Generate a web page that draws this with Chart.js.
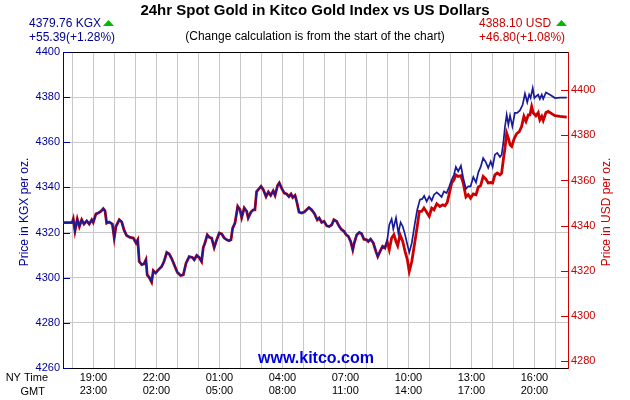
<!DOCTYPE html>
<html>
<head>
<meta charset="utf-8">
<script src="https://cdn.jsdelivr.net/npm/chart.js@4.4.1/dist/chart.umd.min.js"></script>
<style>
  html, body { margin: 0; padding: 0; background: #fff; }
</style>
</head>
<body>
<canvas id="goldChart" width="630" height="400"></canvas>
<script>
// hours on the NY clock, counted from midnight of the first day (25 = 01:00 next day)
const sharedHours = [17.56,17.99,18.04,18.12,18.23,18.33,18.44,18.55,18.68,18.80,
  18.92,18.99,19.12,19.23,19.35,19.47,19.55,19.63,19.75,19.90,
  19.99,20.07,20.23,20.35,20.45,20.58,20.74,20.90,21.03,21.11,
  21.18,21.30,21.41,21.50,21.56,21.66,21.77,21.85,21.96,22.09,
  22.25,22.36,22.49,22.61,22.73,22.88,22.99,23.15,23.28,23.41,
  23.56,23.71,23.80,23.92,24.03,24.15,24.23,24.31,24.42,24.52,
  24.63,24.75,24.87,24.99,25.11,25.23,25.35,25.45,25.55,25.63,
  25.74,25.87,25.98,26.06,26.18,26.30,26.37,26.50,26.61,26.69,
  26.77,26.88,26.98,27.09,27.22,27.33,27.44,27.56,27.65,27.77,
  27.85,27.96,28.09,28.20,28.31,28.41,28.49,28.60,28.68,28.79,
  28.92,29.04,29.15,29.26,29.39,29.52,29.66,29.75,29.87,29.98,
  30.11,30.23,30.35,30.45,30.58,30.71,30.82,30.93,31.03,31.14,
  31.25,31.35,31.42,31.54,31.66,31.77,31.88,32.01,32.09,32.20,
  32.33,32.45,32.54,32.65,32.77,32.88];

const kgxEarly = [4324.4,4324.5,4326.0,4320.7,4326.0,4322.7,4325.7,4323.8,4325.2,4323.8,
  4325.7,4324.5,4328.3,4328.7,4329.4,4330.6,4329.7,4324.2,4324.7,4323.8,
  4317.6,4322.7,4325.7,4324.7,4321.3,4318.7,4317.9,4317.6,4315.4,4316.8,
  4307.2,4305.8,4306.2,4308.0,4301.3,4300.1,4298.1,4303.1,4302.1,4303.5,
  4305.0,4307.2,4311.2,4310.5,4308.4,4305.0,4302.5,4301.0,4301.3,4306.5,
  4309.4,4309.0,4308.0,4309.9,4309.0,4307.2,4313.4,4315.4,4319.0,4317.9,
  4317.6,4313.4,4316.8,4319.8,4319.4,4317.6,4316.8,4316.4,4316.8,4322.0,
  4324.2,4331.6,4330.1,4326.7,4330.9,4329.4,4326.5,4329.1,4330.1,4330.1,
  4338.2,4339.4,4340.5,4339.0,4336.0,4338.0,4336.5,4338.5,4336.5,4340.9,
  4342.0,4339.7,4337.5,4337.1,4336.0,4337.1,4335.6,4336.5,4333.8,4329.1,
  4328.7,4329.1,4330.1,4331.1,4330.1,4328.5,4325.7,4326.5,4324.5,4325.0,
  4323.0,4322.7,4323.5,4325.7,4325.0,4322.7,4321.3,4320.6,4319.1,4318.3,
  4316.1,4312.4,4315.4,4319.1,4320.1,4319.5,4317.1,4316.8,4316.1,4317.1,
  4315.4,4311.7,4309.4,4311.7,4313.9,4313.2];

const usdEarly = [4341.3,4341.4,4342.9,4337.6,4342.9,4339.6,4342.6,4340.7,4342.1,4340.7,
  4342.6,4341.4,4345.2,4345.6,4346.3,4347.5,4346.6,4341.1,4341.6,4340.7,
  4334.5,4339.6,4342.6,4341.6,4338.2,4335.6,4334.8,4334.5,4332.3,4333.7,
  4324.1,4322.7,4323.1,4324.9,4318.2,4317.0,4315.0,4320.0,4319.0,4320.4,
  4321.9,4324.1,4328.1,4327.4,4325.3,4321.9,4319.4,4317.9,4318.2,4323.4,
  4326.3,4325.9,4324.9,4326.8,4325.9,4324.1,4330.3,4332.3,4335.9,4334.8,
  4334.5,4330.3,4333.7,4336.7,4336.3,4334.5,4333.7,4333.3,4333.7,4338.9,
  4341.1,4348.5,4347.0,4343.6,4347.8,4346.3,4343.4,4346.0,4347.0,4347.0,
  4355.1,4356.3,4357.4,4355.9,4352.9,4354.9,4353.4,4355.4,4353.4,4357.8,
  4358.9,4356.6,4354.4,4354.0,4352.9,4354.0,4352.5,4353.4,4350.7,4346.0,
  4345.6,4346.0,4347.0,4348.0,4347.0,4345.4,4342.6,4343.4,4341.4,4341.9,
  4339.9,4339.6,4340.4,4342.6,4341.9,4339.6,4338.2,4337.5,4336.0,4335.2,
  4333.0,4329.3,4332.3,4336.0,4337.0,4336.4,4334.0,4333.7,4333.0,4334.0,
  4332.3,4328.6,4326.3,4328.6,4330.8,4330.1];

// after about 09:30 NY the two lines split apart
const kgxLateHours = [32.99,33.09,33.20,33.28,33.41,33.52,33.63,33.73,33.84,33.95,
  34.04,34.16,34.31,34.42,34.55,34.66,34.75,34.87,34.99,35.11,
  35.22,35.35,35.47,35.58,35.69,35.82,35.95,36.06,36.17,36.26,
  36.37,36.50,36.61,36.74,36.85,36.96,37.09,37.22,37.33,37.44,
  37.56,37.69,37.80,37.92,38.01,38.12,38.23,38.36,38.44,38.52,
  38.60,38.68,38.76,38.84,38.95,39.07,39.18,39.31,39.44,39.55,
  39.66,39.75,39.82,39.92,40.00,40.07,40.18,40.26,40.35,40.42,
  40.55,40.66,40.82,40.98,41.22,41.54];
const kgxLate = [4316.5,4323.5,4326.0,4321.6,4326.5,4319.8,4324.5,4322.7,4319.1,4314.6,
  4311.2,4315.4,4324.2,4330.1,4334.6,4334.9,4336.3,4333.8,4336.0,4334.2,
  4336.8,4337.8,4336.8,4335.8,4338.2,4337.5,4340.5,4343.4,4345.6,4349.1,
  4347.1,4349.6,4344.2,4339.3,4340.5,4340.5,4344.6,4342.2,4346.7,4349.1,
  4353.0,4351.1,4348.6,4351.5,4349.1,4354.5,4355.3,4353.5,4354.5,4359.7,
  4367.0,4372.2,4367.8,4371.8,4367.0,4373.0,4373.0,4374.1,4376.6,4381.5,
  4377.7,4381.1,4379.6,4384.0,4379.6,4380.3,4381.1,4379.2,4381.1,4379.2,
  4382.1,4381.5,4380.6,4379.6,4379.8,4379.76];

const usdLateHours = [32.99,33.09,33.20,33.31,33.41,33.49,33.60,33.73,33.84,33.95,
  34.04,34.16,34.31,34.42,34.52,34.63,34.74,34.87,34.99,35.11,
  35.22,35.35,35.50,35.63,35.74,35.85,35.95,36.06,36.17,36.26,
  36.37,36.50,36.61,36.74,36.85,36.96,37.09,37.22,37.33,37.44,
  37.56,37.69,37.80,37.92,38.01,38.12,38.23,38.36,38.44,38.52,
  38.60,38.68,38.76,38.84,38.92,39.03,39.15,39.28,39.39,39.50,
  39.60,39.71,39.79,39.87,39.95,40.07,40.18,40.26,40.35,40.42,
  40.55,40.66,40.82,40.98,41.22,41.54];
const usdLate = [4332.9,4329.3,4334.5,4336.0,4333.0,4331.1,4336.0,4333.0,4328.6,4324.9,
  4319.7,4324.1,4333.0,4339.6,4346.3,4346.3,4347.8,4345.9,4344.1,4347.8,
  4347.0,4349.7,4348.5,4349.2,4348.8,4350.3,4354.4,4358.9,4360.3,4362.5,
  4361.8,4362.1,4358.9,4352.7,4353.7,4352.2,4354.1,4353.7,4357.1,4357.7,
  4361.8,4360.6,4358.9,4359.1,4358.9,4362.5,4363.3,4362.5,4363.3,4369.2,
  4374.4,4381.0,4378.8,4375.8,4375.1,4378.4,4380.7,4381.7,4383.9,4388.4,
  4386.2,4389.1,4389.1,4392.8,4389.9,4388.7,4390.1,4386.9,4388.4,4386.6,
  4390.1,4390.6,4389.6,4388.7,4388.4,4388.10];

// axis ticks and labels
const gridHours = [18,19,20,21,22,23,24,25,26,27,28,29,30,31,32,33,34,35,36,37,38,39,40,41];
const labelHours = [19, 22, 25, 28, 31, 34, 37, 40];
const nyLabels = ['19:00', '22:00', '01:00', '04:00', '07:00', '10:00', '13:00', '16:00'];
const gmtLabels = ['23:00', '02:00', '05:00', '08:00', '11:00', '14:00', '17:00', '20:00'];
const kgxTicks = [4260, 4280, 4300, 4320, 4340, 4360, 4380, 4400];
const usdTicks = [4280, 4300, 4320, 4340, 4360, 4380, 4400];

const blue = '#000099';
const red = '#cc0000';
const font = '"Liberation Sans", Arial, sans-serif';

const toPoints = (xs, ys) => xs.map((x, i) => ({ x: x, y: ys[i] }));
const kgxPoints = toPoints(sharedHours, kgxEarly).concat(toPoints(kgxLateHours, kgxLate));
const usdPoints = toPoints(sharedHours, usdEarly).concat(toPoints(usdLateHours, usdLate));

// texts, inward tick marks and the top frame line
const decorations = {
  id: 'decorations',
  afterDraw(chart) {
    const ctx = chart.ctx;
    const a = chart.chartArea;
    const yL = chart.scales.y;
    const yR = chart.scales.y2;
    ctx.save();

    ctx.strokeStyle = '#000';
    ctx.lineWidth = 1;
    ctx.beginPath();
    ctx.moveTo(a.left, a.top + 0.5);
    ctx.lineTo(a.right, a.top + 0.5);
    ctx.stroke();

    ctx.strokeStyle = blue;
    ctx.beginPath();
    kgxTicks.forEach(v => {
      const y = Math.round(yL.getPixelForValue(v)) + 0.5;
      ctx.moveTo(a.left, y);
      ctx.lineTo(a.left + 7, y);
    });
    ctx.stroke();

    ctx.strokeStyle = red;
    ctx.beginPath();
    usdTicks.forEach(v => {
      const y = Math.round(yR.getPixelForValue(v)) + 0.5;
      ctx.moveTo(a.right - 7, y);
      ctx.lineTo(a.right, y);
    });
    ctx.stroke();

    ctx.textBaseline = 'middle';

    ctx.fillStyle = '#000';
    ctx.textAlign = 'center';
    ctx.font = 'bold 15px ' + font;
    ctx.fillText('24hr Spot Gold in Kitco Gold Index vs US Dollars', 315, 11);
    ctx.font = '12px ' + font;
    ctx.fillText('(Change calculation is from the start of the chart)', 315, 37);

    ctx.textAlign = 'left';
    ctx.fillStyle = blue;
    ctx.fillText('4379.76 KGX', 29, 24);
    ctx.fillText('+55.39(+1.28%)', 29, 38);
    ctx.fillStyle = red;
    ctx.fillText('4388.10 USD', 479, 24);
    ctx.fillText('+46.80(+1.08%)', 479, 38);

    // green up arrows
    ctx.fillStyle = '#00bb00';
    [[103, 26], [556, 26]].forEach(p => {
      ctx.beginPath();
      ctx.moveTo(p[0], p[1]);
      ctx.lineTo(p[0] + 11, p[1]);
      ctx.lineTo(p[0] + 5.5, p[1] - 6);
      ctx.closePath();
      ctx.fill();
    });

    ctx.fillStyle = '#000';
    ctx.font = '11px ' + font;
    ctx.textAlign = 'right';
    ctx.fillText('NY Time', 48, 378);
    ctx.fillText('GMT', 45, 392);

    ctx.fillStyle = '#0000dd';
    ctx.textAlign = 'center';
    ctx.font = 'bold 16px ' + font;
    ctx.fillText('www.kitco.com', 316, 359);

    ctx.font = '12px ' + font;
    ctx.fillStyle = blue;
    ctx.translate(25, 212);
    ctx.rotate(-Math.PI / 2);
    ctx.fillText('Price in KGX per oz.', 0, 0);
    ctx.restore();

    ctx.save();
    ctx.font = '12px ' + font;
    ctx.fillStyle = red;
    ctx.textAlign = 'center';
    ctx.textBaseline = 'middle';
    ctx.translate(607, 212);
    ctx.rotate(-Math.PI / 2);
    ctx.fillText('Price in USD per oz.', 0, 0);
    ctx.restore();
  }
};

new Chart(document.getElementById('goldChart'), {
  type: 'line',
  data: {
    datasets: [{
      label: 'KGX',
      data: kgxPoints,
      yAxisID: 'y',
      borderColor: '#1a1a99',
      borderWidth: 1.7,
      pointRadius: 0,
      tension: 0
    }, {
      label: 'USD',
      data: usdPoints,
      yAxisID: 'y2',
      borderColor: red,
      borderWidth: 2.8,
      pointRadius: 0,
      tension: 0
    }]
  },
  options: {
    responsive: false,
    animation: false,
    layout: { padding: { top: 52, left: 0, right: 0, bottom: 0 } },
    plugins: { legend: { display: false }, tooltip: { enabled: false } },
    scales: {
      x: {
        type: 'linear',
        min: 17.55,
        max: 41.6,
        afterBuildTicks: s => { s.ticks = gridHours.map(h => ({ value: h })); },
        afterFit: s => { s.height = 32; },
        ticks: {
          autoSkip: false,
          maxRotation: 0,
          padding: 3,
          color: '#000',
          font: { family: font, size: 11 },
          callback: v => {
            const i = labelHours.indexOf(v);
            return i >= 0 ? [nyLabels[i], gmtLabels[i]] : '';
          }
        },
        grid: { color: '#c8c8c8', drawTicks: false },
        border: { color: '#000' }
      },
      y: {
        position: 'left',
        min: 4260,
        max: 4400,
        afterBuildTicks: s => { s.ticks = kgxTicks.map(v => ({ value: v })); },
        afterFit: s => { s.width = 63; },
        ticks: { color: blue, padding: 3, font: { family: font, size: 11 }, callback: v => String(v) },
        grid: { color: '#c8c8c8', drawTicks: false },
        border: { color: blue }
      },
      y2: {
        position: 'right',
        min: 4276.93,
        max: 4416.93,
        afterBuildTicks: s => { s.ticks = usdTicks.map(v => ({ value: v })); },
        afterFit: s => { s.width = 62; },
        ticks: { color: red, padding: 3, font: { family: font, size: 11 }, callback: v => String(v) },
        grid: { display: false, drawTicks: false },
        border: { color: red }
      }
    }
  },
  plugins: [decorations]
});
</script>
</body>
</html>
